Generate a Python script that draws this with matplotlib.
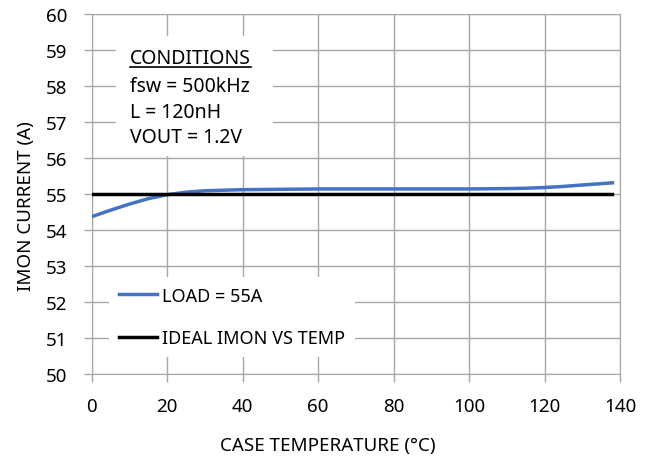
import numpy as np
import matplotlib.pyplot as plt
from matplotlib.patches import Rectangle

plt.rcParams['font.family'] = ['Noto Sans', 'DejaVu Sans']

temp = [0, 5, 10, 15, 20, 25, 30, 40, 50, 60, 70, 80, 90, 100, 110, 115, 120, 125, 130, 138]
imon = [54.37, 54.55, 54.72, 54.87, 54.98, 55.05, 55.09, 55.12, 55.13, 55.14, 55.14, 55.14, 55.14, 55.14, 55.15, 55.16, 55.18, 55.21, 55.25, 55.31]
ideal_temp = [0, 138]
ideal_imon = [55, 55]
conditions = ['CONDITIONS', 'fsw = 500kHz', 'L = 120nH', 'VOUT = 1.2V']

fig = plt.figure(figsize=(6.57, 4.6), dpi=100)
ax = fig.add_axes([0.1396, 0.1848, 0.8041, 0.7826])

ax.plot(temp, imon, color='#4472C4', lw=2.5, label='LOAD = 55A', zorder=3)
ax.plot(ideal_temp, ideal_imon, color='black', lw=2.5, label='IDEAL IMON VS TEMP', zorder=4)

ax.set_xlim(0, 140)
ax.set_ylim(50, 60)
ax.set_xticks(np.arange(0, 141, 20))
ax.set_yticks(np.arange(50, 61, 1))
ax.grid(True, color='#a6a6a6', lw=1)
ax.set_axisbelow(True)
for s in ax.spines.values():
    s.set_color('#a6a6a6')
ax.tick_params(axis='both', color='#a6a6a6', length=5.5, width=1, labelsize=13.5)
ax.tick_params(axis='x', pad=11)
ax.tick_params(axis='y', pad=12)
ax.set_xlabel('CASE TEMPERATURE (°C)', fontsize=13.5)
ax.xaxis.set_label_coords(0.447, -0.197)
ax.xaxis.label.set_va('center')
ax.set_ylabel('IMON CURRENT (A)', fontsize=13.5)
ax.yaxis.set_label_coords(-0.125, 0.47)
ax.yaxis.label.set_va('center')

# conditions box
ax.add_patch(Rectangle((6.4, 56.06), 41.6, 3.33, facecolor='white', edgecolor='none', zorder=5))
cond_y = [58.78, 58.0, 57.28, 56.58]
texts = []
for txt, yy in zip(conditions, cond_y):
    texts.append(ax.text(10.15, yy, txt, fontsize=14, va='center', ha='left', zorder=6))

# underline the heading, sized to its rendered width
fig.canvas.draw()
bb = texts[0].get_window_extent().transformed(ax.transData.inverted())
ax.plot([bb.x0, bb.x1], [58.53, 58.53], color='black', lw=1.2, zorder=6)

leg = ax.legend(loc='lower left', bbox_to_anchor=(0.033, 0.047), frameon=True,
                fontsize=13, handlelength=2.1, handletextpad=0.28,
                labelspacing=1.35, borderpad=0.55, borderaxespad=0)
leg.get_frame().set_edgecolor('none')
leg.get_frame().set_alpha(1)
leg.get_frame().set_boxstyle('square', pad=0)

fig.savefig('out.png', dpi=100)
